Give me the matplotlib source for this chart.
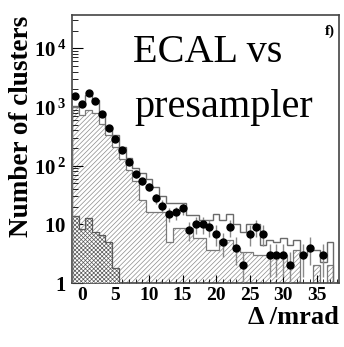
import numpy as np
import matplotlib
matplotlib.use("Agg")
import matplotlib.pyplot as plt

# ---- data ----
bin_centers = list(range(-1, 39))  # Delta / mrad, 1 mrad bins
data_counts = [1550, 1120, 1700, 1260, 770, 440, 290, 183, 116, 71,
               55, 44, 28, 21, 15, 16, 19, 8, 10, 10,
               9, 7, 5, 9, 4, 2, 7, 9, 7, 3,
               3, 3, 2, 0, 3, 4, 0, 3, 0, 0]
total_mc = [1050, 1170, 1590, 1300, 830, 457, 330, 210, 133, 90,
            76, 60, 44, 31, 23, 23, 23, 14.4, 14.4, 12,
            12, 15, 12, 15, 10, 7.5, 10, 10, 4.5, 5.4,
            5.0, 5.8, 4.5, 5.4, 3.0, 3.6, 3.6, 2.3, 5.0, 0]
hatched_mc = [1000, 720, 900, 800, 520, 330, 210, 130, 85, 55,
              26, 16, 16, 16, 5, 8.6, 8.6, 8.6, 5.8, 5.8,
              3.6, 3.6, 5.4, 5.4, 3.9, 3.4, 3.4, 3.0, 3.0, 3.0,
              3.0, 3.0, 2.2, 3.6, 0, 0, 2.0, 0, 2.0, 0]
cross_mc = [13.8, 8.5, 13, 7.5, 6.6, 5, 1.8] + [0] * 33

x_ticks = [0, 5, 10, 15, 20, 25, 30, 35]
y_ticks = [1, 10, 100, 1000, 10000]
y_tick_labels = [r"$\mathbf{1}$", r"$\mathbf{10}$", r"$\mathbf{10^{\,2}}$",
                 r"$\mathbf{10^{\,3}}$", r"$\mathbf{10^{\,4}}$"]

plt.rcParams["mathtext.fontset"] = "custom"
plt.rcParams["mathtext.rm"] = "Liberation Serif"
plt.rcParams["mathtext.bf"] = "Liberation Serif:bold"
plt.rcParams["hatch.linewidth"] = 0.5

centers = np.array(bin_centers, dtype=float)
edges = np.concatenate([centers - 0.5, [centers[-1] + 0.5]])
data = np.array(data_counts, dtype=float)
tot = np.array(total_mc, dtype=float)
hat = np.array(hatched_mc, dtype=float)
crs = np.array(cross_mc, dtype=float)

fig = plt.figure(figsize=(3.44, 3.47), dpi=100)
ax = fig.add_axes([0.209, 0.184, 0.776, 0.773])
ax.set_yscale("log")

base = 0.5
hat_plot = np.where(hat > 0, hat, base)
crs_plot = np.where(crs > 0, crs, base)
tot_plot = np.where(tot > 0, tot, base)

# hatched histogram
ax.stairs(hat_plot, edges, baseline=base, fill=True, facecolor="white",
          edgecolor="#8c8c8c", hatch="///////", linewidth=0, zorder=1)
ax.stairs(hat_plot, edges, baseline=base, fill=False, edgecolor="#7a7a7a",
          linewidth=0.9, zorder=2)
# cross hatched histogram
ax.stairs(crs_plot, edges, baseline=base, fill=True, facecolor="white",
          edgecolor="#5a5a5a", hatch="xxxxxxxx", linewidth=0, zorder=3)
ax.stairs(crs_plot, edges, baseline=base, fill=False, edgecolor="#5a5a5a",
          linewidth=0.9, zorder=4)
# total (open) histogram
ax.stairs(tot_plot, edges, baseline=base, fill=False, edgecolor="#6a6a6a",
          linewidth=1.0, zorder=5)

# data points
mask = data > 0
err = np.sqrt(data[mask])
lo = np.minimum(err, data[mask] - 0.5)
ax.errorbar(centers[mask], data[mask], yerr=[lo, err], fmt="none",
            ecolor="#8a8a8a", elinewidth=1.0, capsize=0, zorder=6)
ax.plot(centers[mask], data[mask], "o", color="black", markersize=5, zorder=7)

ax.set_xlim(-1.5, 38.3)
ax.set_ylim(1, 3.7e4)

ax.set_xticks(x_ticks)
ax.set_xticklabels([str(t) for t in x_ticks], fontfamily="Liberation Serif",
                   fontweight="bold", fontsize=14)
ax.set_xticks(np.arange(-1, 39, 1), minor=True)
ax.set_yticks(y_ticks)
ax.set_yticklabels(y_tick_labels, fontsize=15)
ax.tick_params(axis="both", which="both", direction="in", top=False, right=False)
ax.tick_params(axis="x", which="major", length=6, pad=2.5)
ax.tick_params(axis="x", which="minor", length=3)
ax.tick_params(axis="y", which="major", length=8, pad=4)
ax.tick_params(axis="y", which="minor", length=4)

for s in ax.spines.values():
    s.set_color("#444444")
    s.set_linewidth(1.2)

fig.text(22 / 344, 1 - 126 / 347, "Number of clusters", rotation=90,
         ha="center", va="center", fontfamily="Liberation Serif",
         fontweight="bold", fontsize=19.5)
fig.text(0.985, 1 - 318 / 347, "\u0394 /mrad", ha="right", va="center",
         fontfamily="Liberation Serif", fontweight="bold", fontsize=19)

ax.text(0.228, 0.825, "ECAL vs", transform=ax.transAxes,
        fontfamily="Liberation Serif", fontsize=29, ha="left", va="baseline")
ax.text(0.235, 0.619, "presampler", transform=ax.transAxes,
        fontfamily="Liberation Serif", fontsize=29, ha="left", va="baseline")
ax.text(0.985, 0.94, "f)", transform=ax.transAxes, ha="right", va="center",
        fontfamily="Liberation Serif", fontweight="bold", fontsize=11)

fig.savefig("out.png", dpi=100)
